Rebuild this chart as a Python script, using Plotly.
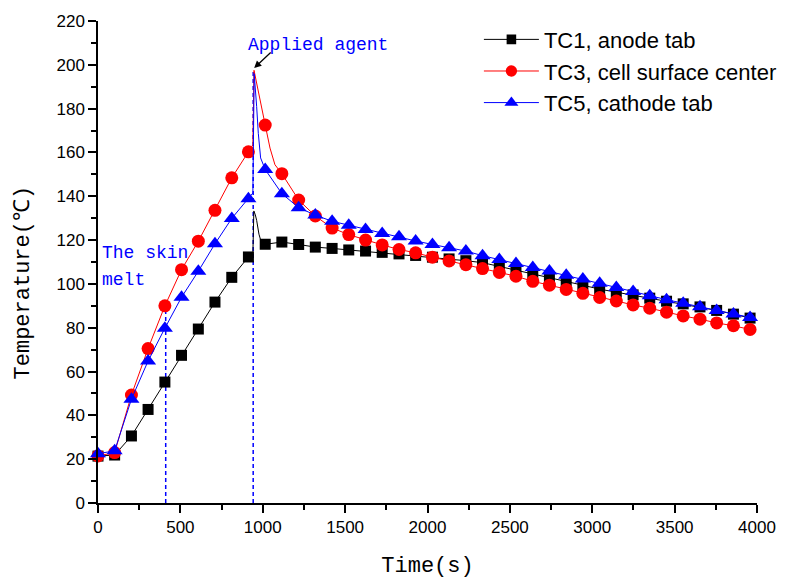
import plotly.graph_objects as go

# ---------------- data ----------------
time_s = [0, 101, 203, 304, 406, 507, 609, 710, 812, 913, 1015, 1116, 1218, 1319,
          1421, 1522, 1624, 1725, 1827, 1928, 2030, 2131, 2233, 2334, 2436, 2537,
          2639, 2740, 2842, 2943, 3045, 3146, 3248, 3349, 3451, 3552, 3654, 3755,
          3857, 3958]

tc1 = [21.4, 21.9, 30.6, 42.7, 55.2, 67.4, 79.4, 91.7, 103.0, 112.3,
       118.1, 119.1, 118.0, 116.8, 116.2, 115.5, 115.0, 114.4, 113.7, 113.0,
       112.2, 111.4, 110.6, 109.7, 108.0, 106.4, 104.8, 103.0, 101.2, 99.4,
       97.6, 96.2, 95.0, 93.5, 92.1, 90.9, 89.5, 87.9, 86.2, 84.4]
tc3 = [21.5, 23.0, 49.3, 70.5, 90.0, 106.5, 119.5, 133.6, 148.4, 160.3,
       172.5, 150.3, 138.3, 131.0, 125.5, 122.5, 120.0, 117.8, 115.7, 114.2,
       112.2, 110.5, 108.8, 107.0, 105.2, 103.5, 101.2, 99.4, 97.5, 95.7,
       93.8, 92.2, 90.4, 88.9, 87.1, 85.4, 83.9, 82.2, 80.9, 79.2]
tc5 = [22.5, 23.8, 47.4, 64.8, 79.8, 93.9, 105.8, 118.3, 129.9, 138.9,
       152.2, 141.2, 134.8, 131.4, 128.6, 126.8, 124.8, 123.0, 121.5, 119.6,
       118.0, 116.5, 115.0, 112.9, 111.1, 109.3, 107.5, 105.9, 104.0, 102.2,
       100.3, 98.4, 96.5, 94.6, 92.8, 91.2, 89.6, 87.9, 86.3, 84.7]

# extra recorded points (no marker) around the agent spike
tc1_spike_t = [940, 946, 955, 963, 977, 990]
tc1_spike_v = [113.5, 133.3, 131.5, 129.0, 122.7, 119.3]
tc3_spike_t = [940, 947, 967, 987, 1044, 1074]
tc3_spike_v = [163.5, 197.5, 190.0, 181.5, 162.0, 154.4]
tc5_spike_t = [940, 948, 955, 963, 973, 987]
tc5_spike_v = [141.5, 196.0, 190.0, 181.0, 168.7, 157.5]

series_names = ["TC1, anode tab", "TC3, cell surface center", "TC5, cathode tab"]
melt_time, melt_temp = 411, 89.6
agent_time, agent_temp = 942, 197.5

x_ticks = [0, 500, 1000, 1500, 2000, 2500, 3000, 3500, 4000]
y_ticks = [0, 20, 40, 60, 80, 100, 120, 140, 160, 180, 200, 220]


def merge(t, v, st, sv, size):
    pts = [(a, b, size) for a, b in zip(t, v)] + [(a, b, 0) for a, b in zip(st, sv)]
    pts.sort(key=lambda p: p[0])
    return [p[0] for p in pts], [p[1] for p in pts], [p[2] for p in pts]


fig = go.Figure()
specs = [
    (tc1, tc1_spike_t, tc1_spike_v, "square", 11, "#000000"),
    (tc3, tc3_spike_t, tc3_spike_v, "circle", 13, "#FF0000"),
    (tc5, tc5_spike_t, tc5_spike_v, "triangle-up", 14, "#0000FF"),
]
for name, (vals, st, sv, sym, sz, col) in zip(series_names, specs):
    xs, ys, sizes = merge(time_s, vals, st, sv, sz)
    fig.add_trace(go.Scatter(
        x=xs, y=ys, mode="lines+markers", name=name,
        line=dict(color=col, width=1),
        marker=dict(symbol=sym, size=sizes, color=col, opacity=1, line=dict(width=0)),
        cliponaxis=False,
    ))

# dashed marker lines
for xv, yv in [(melt_time, melt_temp), (agent_time, agent_temp)]:
    fig.add_shape(type="line", xref="x", yref="y", x0=xv, x1=xv, y0=0, y1=yv,
                  line=dict(color="#0000FF", width=1.5, dash="4px,3px"), layer="below")

mono = "Liberation Mono"
fig.add_annotation(x=1334, y=209, xref="x", yref="y", text="Applied agent",
                   xanchor="center", yanchor="middle",
                   showarrow=False, font=dict(family=mono, size=18, color="#0000FF"))
fig.add_annotation(x=agent_time + 6, y=agent_temp + 1, xref="x", yref="y", text="",
                   showarrow=True, arrowhead=2, arrowsize=1.1, arrowwidth=1.3,
                   arrowcolor="#000000", ax=18, ay=-17)
fig.add_annotation(x=10, y=114.2, xref="x", yref="y", text="The skin", xanchor="left",
                   showarrow=False, font=dict(family=mono, size=18, color="#0000FF"))
fig.add_annotation(x=10, y=101.6, xref="x", yref="y", text="melt", xanchor="left",
                   showarrow=False, font=dict(family=mono, size=18, color="#0000FF"))
fig.add_annotation(x=-0.113, y=0.4566, xref="paper", yref="paper", text="Temperature(℃)",
                   xanchor="center", yanchor="middle",
                   textangle=-90, showarrow=False,
                   font=dict(family=mono, size=22, color="#000000"))

axis_common = dict(
    showline=True, linecolor="#000000", linewidth=1.5, showgrid=False, zeroline=False,
    ticks="outside", ticklen=8, tickwidth=1.5, tickcolor="#000000",
    tickfont=dict(family="Liberation Sans, Arial", size=17, color="#000000"),
)
fig.update_xaxes(range=[0, 4000], tickvals=x_ticks,
                 minor=dict(dtick=250, ticks="outside", ticklen=5, tickwidth=1.5, tickcolor="#000000"),
                 title=dict(text="Time(s)", font=dict(family=mono, size=22, color="#000000"), standoff=20),
                 **axis_common)
fig.update_yaxes(range=[0, 220], tickvals=y_ticks,
                 minor=dict(dtick=10, ticks="outside", ticklen=5, tickwidth=1.5, tickcolor="#000000"),
                 **axis_common)

fig.update_layout(
    width=801, height=585,
    margin=dict(l=98, r=44, t=20, b=78),
    plot_bgcolor="white", paper_bgcolor="white",
    showlegend=True,
    legend=dict(x=0.578, y=1.005, xanchor="left", yanchor="top",
                bgcolor="rgba(0,0,0,0)", borderwidth=0, itemwidth=55,
                font=dict(family="Liberation Sans, Arial", size=22, color="#000000"),
                tracegroupgap=0),
)

fig.write_html("out.html")
